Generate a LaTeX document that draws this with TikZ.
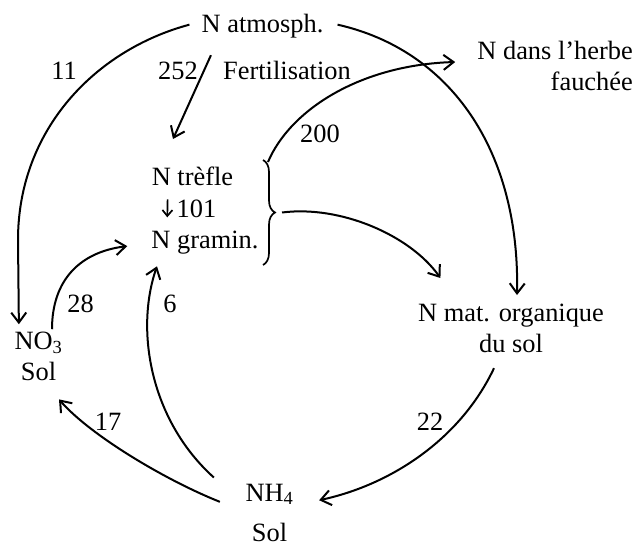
\documentclass[tikz,border=0pt]{standalone}
\usepackage{fontspec}
\setmainfont{Liberation Serif}
\usetikzlibrary{arrows.meta,calc,decorations.pathreplacing}
\begin{document}
\begin{tikzpicture}[x=1pt,y=-1pt,
  lbl/.style={inner sep=0pt,font=\fontsize{26.4}{31}\selectfont},
  flow/.style={line width=2pt,-{Straight Barb[length=10pt,width=15pt]}},
  smallflow/.style={line width=1.7pt,-{Straight Barb[length=6pt,width=10pt]}},
  bracestyle/.style={line width=1.7pt,decorate,decoration={brace,amplitude=12pt}}]
\useasboundingbox (0,0) rectangle (637,549);
% nodes
\node[lbl,anchor=base] (atm) at (262.5,32) {N atmosph.};
\node[lbl,anchor=east,align=right] (herbe) at (633,66) {N dans l’herbe\\fauchée};
\node[lbl,anchor=base] (l11) at (64,79) {11};
\node[lbl,anchor=base] (l252) at (178,79) {252};
\node[lbl,anchor=base] (fert) at (287,79) {Fertilisation};
\node[lbl,anchor=base] (l200) at (320,142) {200};
\node[lbl,anchor=base] (trefle) at (192.5,185) {N trèfle};
\node[lbl,anchor=base] (l101) at (196.5,217) {101};
\node[lbl,anchor=base] (gramin) at (205,248) {N gramin.};
\node[lbl,align=center] (no3) at (38.5,356.8) {NO\textsubscript{3}\\Sol};
\node[lbl,align=center] (matorg) at (511,328.6) {N mat. organique\\du sol};
\node[lbl,anchor=base] (l28) at (80.5,312) {28};
\node[lbl,anchor=base] (l6) at (170,312) {6};
\node[lbl,anchor=base] (l17) at (108,430) {17};
\node[lbl,anchor=base] (l22) at (430,430) {22};
\node[lbl,anchor=base] (nh4) at (269.5,501) {NH\textsubscript{4}};
\node[lbl,anchor=base] (sol) at (269.5,541) {Sol};
% brace
\coordinate (brtop) at (263,160);
\coordinate (brbot) at (263,265);
\coordinate (brtip) at (275,212.5);
\draw[bracestyle] (brtop) -- (brbot);
% connectors
\draw[flow] ($(atm.west)+(-12,-1)$) .. controls (95,50) and (18,130) .. (18,240) -- ($(no3.north west)+(4.5,-8)$);
\draw[flow] ($(atm.east)+(14,-1)$) .. controls (450,50) and (520,150) .. ($(matorg.north)+(6,-9)$);
\draw[flow] ($(atm.south west)+(9.5,17.4)$) -- ($(trefle.north)+(-19.5,-27.2)$);
\draw[flow] ($(brtop)+(5,2)$) .. controls (290,110) and (360,65) .. ($(herbe.west)+(-22,-4)$);
\draw[flow] ($(brtip)+(7,0)$) .. controls (340,205) and (410,235) .. ($(matorg.north west)+(22.5,-26)$);
\draw[flow] ($(no3.north)+(13.5,-3)$) .. controls (52,280) and (80,252) .. ($(gramin.west)+(-24,4)$);
\draw[flow] ($(nh4.north west)+(-31.5,-6)$) .. controls (150,420) and (135,330) .. ($(gramin.south west)+(5.7,12.4)$);
\draw[flow] ($(nh4.west)+(-25.5,7.6)$) .. controls (165,480) and (90,435) .. ($(no3.south)+(20.5,18)$);
\draw[flow] ($(matorg.south)+(-17,15)$) .. controls (460,440) and (390,485) .. ($(nh4.east)+(25.5,6)$);
\draw[smallflow] ($(trefle.south west)+(16,14)$) -- ($(gramin.north west)+(16,-13)$);
\end{tikzpicture}
\end{document}
